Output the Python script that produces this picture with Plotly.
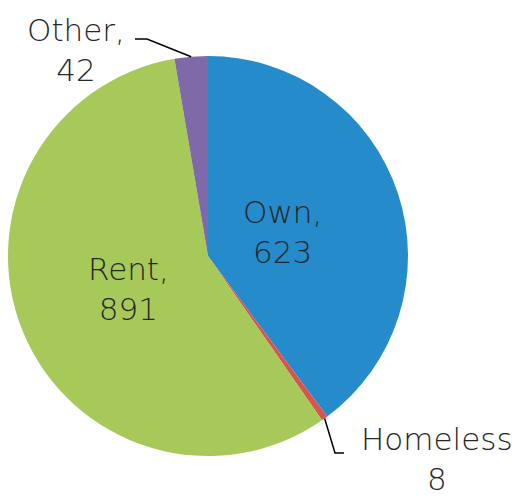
import numpy as np
import plotly.graph_objects as go

labels = ["Own", "Homeless", "Rent", "Other"]
values = [623, 8, 891, 42]
colors = ["#258BCB", "#D9534F", "#A7C95A", "#7F69A9"]

W, H = 526, 497
cx, cy, R = 208, 256, 200  # pie centre / radius, px

FONT = dict(family="DejaVu Sans", size=31, color="#262626", weight=200)


def to_paper(x, y):
    return x / W, 1 - y / H


def mid_angle(i):
    # clockwise from 12 o'clock, degrees
    total = sum(values)
    start = sum(values[:i]) / total * 360
    return start + values[i] / total * 360 / 2


def polar(angle, r):
    a = np.radians(angle)
    return cx + r * np.sin(a), cy - r * np.cos(a)


x0, y0 = to_paper(cx - R, cy + R)
x1, y1 = to_paper(cx + R, cy - R)
fig = go.Figure(go.Pie(
    labels=labels,
    values=values,
    sort=False,
    direction="clockwise",
    rotation=0,
    marker=dict(colors=colors, line=dict(width=0)),
    textinfo="none",
    hoverinfo="label+value",
    showlegend=False,
    domain=dict(x=[x0, x1], y=[y0, y1]),
))


def label(x, y, text):
    px_, py_ = to_paper(x, y)
    fig.add_annotation(x=px_, y=py_, xref="paper", yref="paper", text=text,
                       showarrow=False, font=FONT, align="center",
                       xanchor="center", yanchor="middle")


# inside labels
for i, r in [(0, 0.39), (2, 0.43)]:
    x, y = polar(mid_angle(i), R * r)
    label(x, y, f"{labels[i]},<br>{values[i]}")

# outside labels with leader lines
ox, oy = polar(mid_angle(3), R)
hx, hy = polar(mid_angle(1), R)
for p in ([(ox, oy), (147, 39), (135, 39)], [(hx, hy), (335, 453), (344, 453)]):
    path = "M " + " L ".join("{},{}".format(*to_paper(a, b)) for a, b in p)
    fig.add_shape(type="path", path=path, xref="paper", yref="paper",
                  line=dict(color="#000000", width=1.5))

label(76, 50, f"{labels[3]},<br>{values[3]}")
label(437, 459, f"{labels[1]}<br>{values[1]}")

fig.update_layout(
    width=W, height=H,
    margin=dict(l=0, r=0, t=0, b=0),
    paper_bgcolor="white",
    plot_bgcolor="white",
)

# drop the default 8px body margin so the figure fills the window
fig.write_html("out.html", config={"displayModeBar": False},
               post_script="document.body.style.margin='0';")
